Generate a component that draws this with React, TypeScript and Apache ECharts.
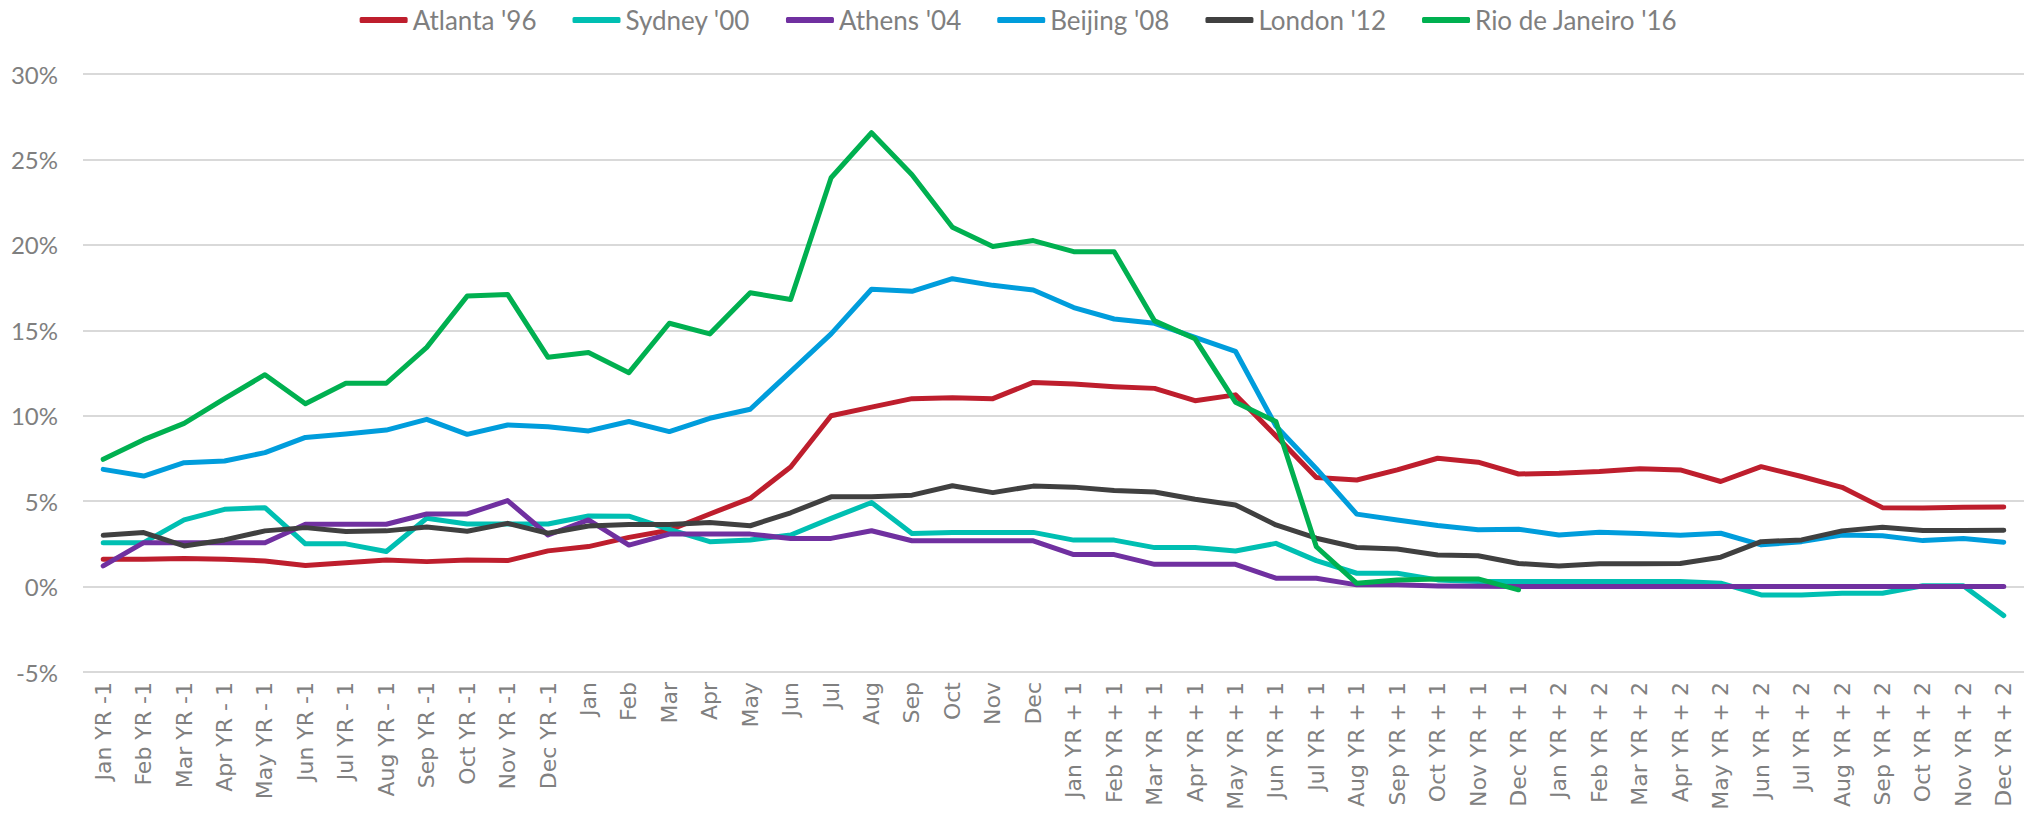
import React, { useEffect, useRef } from "react";
import * as echarts from "echarts";

const categories = [
  "Jan YR -1", "Feb YR -1", "Mar YR -1", "Apr YR - 1", "May YR - 1", "Jun YR -1",
  "Jul YR - 1", "Aug YR - 1", "Sep YR -1", "Oct YR -1", "Nov YR -1", "Dec YR -1",
  "Jan", "Feb", "Mar", "Apr", "May", "Jun", "Jul", "Aug", "Sep", "Oct", "Nov", "Dec",
  "Jan YR + 1", "Feb YR + 1", "Mar YR + 1", "Apr YR + 1", "May YR + 1", "Jun YR + 1",
  "Jul YR + 1", "Aug YR + 1", "Sep YR + 1", "Oct YR + 1", "Nov YR + 1", "Dec YR + 1",
  "Jan YR + 2", "Feb YR + 2", "Mar YR + 2", "Apr YR + 2", "May YR + 2", "Jun YR + 2",
  "Jul YR + 2", "Aug YR + 2", "Sep YR + 2", "Oct YR + 2", "Nov YR + 2", "Dec YR + 2",
];

const atlanta = [
  1.6, 1.6, 1.64, 1.6, 1.5, 1.23, 1.4, 1.56, 1.46, 1.56, 1.52, 2.09,
  2.34, 2.88, 3.3, 4.25, 5.16, 7.0, 10.0, 10.5, 11.0, 11.05, 11.0, 11.95,
  11.85, 11.7, 11.6, 10.88, 11.22, 8.82, 6.38, 6.24, 6.83, 7.51, 7.28, 6.59,
  6.63, 6.73, 6.89, 6.83, 6.15, 7.02, 6.44, 5.81, 4.62, 4.6, 4.64, 4.66,
];

const sydney = [
  2.57, 2.57, 3.9, 4.52, 4.62, 2.5, 2.5, 2.05, 4.0, 3.66, 3.66, 3.66,
  4.13, 4.12, 3.35, 2.63, 2.72, 3.02, 3.99, 4.92, 3.11, 3.17, 3.17, 3.17,
  2.72, 2.72, 2.28, 2.28, 2.08, 2.53, 1.52, 0.78, 0.78, 0.39, 0.29, 0.29,
  0.29, 0.29, 0.29, 0.29, 0.2, -0.49, -0.49, -0.39, -0.39, 0.05, 0.05, -1.7,
];

const athens = [
  1.21, 2.57, 2.57, 2.57, 2.57, 3.65, 3.65, 3.65, 4.25, 4.25, 5.03, 3.02,
  3.9, 2.43, 3.07, 3.07, 3.07, 2.82, 2.82, 3.27, 2.68, 2.68, 2.68, 2.68,
  1.87, 1.87, 1.3, 1.3, 1.3, 0.49, 0.49, 0.1, 0.1, 0.04, 0.02, 0,
  0, 0, 0, 0, 0, 0, 0, 0, 0, 0, 0, 0,
];

const beijing = [
  6.86, 6.47, 7.25, 7.35, 7.84, 8.73, 8.93, 9.16, 9.79, 8.91, 9.46, 9.36,
  9.11, 9.66, 9.07, 9.85, 10.38, 12.58, 14.79, 17.4, 17.28, 18.02, 17.63, 17.36,
  16.33, 15.66, 15.41, 14.59, 13.77, 9.4, 6.9, 4.24, 3.9, 3.57, 3.32, 3.36,
  3.02, 3.18, 3.1, 3.0, 3.12, 2.44, 2.63, 3.02, 2.98, 2.69, 2.81, 2.6,
];

const london = [
  3.0, 3.16, 2.38, 2.73, 3.26, 3.45, 3.22, 3.26, 3.49, 3.24, 3.7, 3.12,
  3.55, 3.64, 3.64, 3.75, 3.56, 4.32, 5.25, 5.25, 5.35, 5.9, 5.5, 5.88,
  5.82, 5.62, 5.54, 5.11, 4.78, 3.61, 2.83, 2.29, 2.2, 1.85, 1.8, 1.35,
  1.21, 1.33, 1.33, 1.35, 1.72, 2.63, 2.73, 3.26, 3.47, 3.28, 3.28, 3.3,
];

const rio = [
  7.45, 8.6, 9.55, 11.0, 12.4, 10.7, 11.9, 11.9, 14.0, 17.0, 17.1, 13.42,
  13.7, 12.52, 15.41, 14.79, 17.2, 16.8, 23.93, 26.56, 24.1, 21.03, 19.9, 20.25,
  19.6, 19.6, 15.55, 14.5, 10.79, 9.66, 2.33, 0.19, 0.39, 0.45, 0.45, -0.19,
];

const seriesNames = ["Atlanta '96", "Sydney '00", "Athens '04", "Beijing '08", "London '12", "Rio de Janeiro '16"];
const seriesData = [atlanta, sydney, athens, beijing, london, rio];
const seriesColors = ["#BE1E2D", "#00BFB2", "#7030A0", "#009DDC", "#404040", "#00B050"];

const labelFont = "Lato, 'Open Sans', sans-serif";

export default function App() {
  const ref = useRef<HTMLDivElement>(null);
  useEffect(() => {
    document.body.style.margin = "0";
    const chart = echarts.init(ref.current!, null, { renderer: "svg" });
    chart.setOption({
      animation: false,
      backgroundColor: "#ffffff",
      legend: {
        top: 2,
        left: "center",
        icon: "roundRect",
        itemWidth: 48,
        itemHeight: 6,
        itemGap: 36,
        textStyle: { color: "#7F7F7F", fontSize: 26, fontFamily: labelFont },
        data: seriesNames,
      },
      grid: {
        left: 83,
        right: 13,
        top: 74,
        bottom: 141,
        containLabel: false,
        outerBoundsMode: "none",
      },
      xAxis: {
        type: "category",
        data: categories,
        boundaryGap: true,
        axisLine: { show: false },
        axisTick: { show: false },
        axisLabel: {
          interval: 0,
          rotate: 90,
          margin: 10,
          color: "#808080",
          fontSize: 22,
          fontFamily: "'DejaVu Sans', sans-serif",
          hideOverlap: false,
        },
        splitLine: { show: false },
      },
      yAxis: {
        type: "value",
        min: -5,
        max: 30,
        interval: 5,
        axisLine: { show: false },
        axisTick: { show: false },
        axisLabel: {
          margin: 25,
          color: "#7F7F7F",
          fontSize: 24,
          fontFamily: labelFont,
          formatter: (v: number) => `${v}%`,
        },
        splitLine: { lineStyle: { color: "#D9D9D9", width: 2 } },
      },
      series: seriesNames.map((name, k) => ({
        name,
        type: "line",
        data: seriesData[k],
        showSymbol: false,
        symbol: "none",
        color: seriesColors[k],
        lineStyle: { width: 5, color: seriesColors[k], cap: "round", join: "round" },
      })),
    });
    return () => chart.dispose();
  }, []);
  return <div ref={ref} style={{ position: "absolute", left: 0, top: 0, width: 2037, height: 813 }} />;
}
